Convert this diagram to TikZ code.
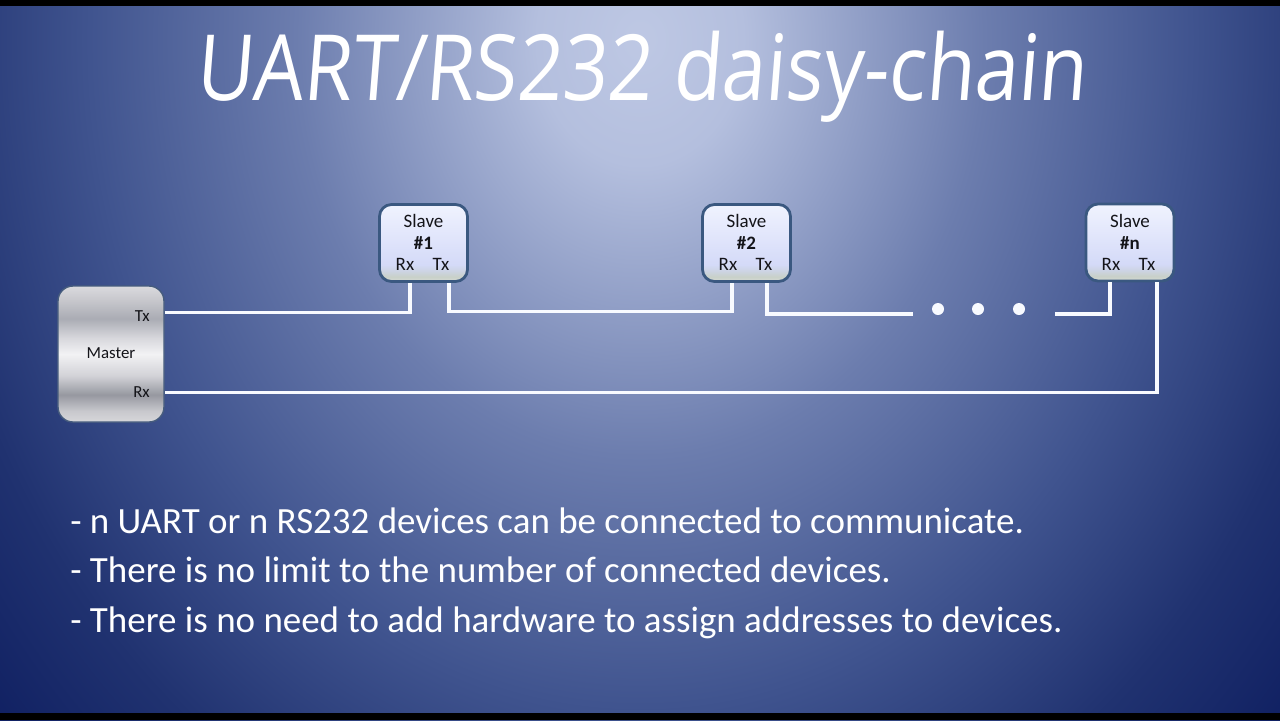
\documentclass[tikz,border=0pt]{standalone}
\usepackage{fontspec}
\setmainfont{Carlito}
\newfontfamily\titlefont[FakeStretch=0.865,FakeSlant=0.08]{Open Sans}
\usepackage{xcolor}
\usepackage{tikz}
\usetikzlibrary{shapes,positioning,calc}

\definecolor{bgA}{RGB}{190,200,228}
\definecolor{bgB}{RGB}{180,191,222}
\definecolor{bgC}{RGB}{108,125,174}
\definecolor{bgD}{RGB}{64,84,143}
\definecolor{bgE}{RGB}{32,50,112}
\definecolor{bgF}{RGB}{16,32,98}
\definecolor{wirewhite}{RGB}{248,250,255}
\definecolor{slaveedge}{RGB}{58,88,128}
\definecolor{masteredge}{RGB}{70,92,125}
\definecolor{textdark}{RGB}{20,20,25}

\pgfdeclareradialshading{slidebg}{\pgfpoint{0bp}{0bp}}{color(0bp)=(bgA); color(3bp)=(bgB); color(10bp)=(bgC); color(16bp)=(bgD); color(21bp)=(bgE); color(25bp)=(bgF); color(50bp)=(bgF)}
\pgfdeclareverticalshading{masterbands}{100bp}{color(0bp)=(rgb,255:red,215;green,215;blue,218); color(25bp)=(rgb,255:red,215;green,215;blue,218); color(29bp)=(rgb,255:red,200;green,200;blue,205); color(35bp)=(rgb,255:red,150;green,152;blue,160); color(42bp)=(rgb,255:red,210;green,210;blue,215); color(50bp)=(rgb,255:red,242;green,242;blue,244); color(56bp)=(rgb,255:red,215;green,215;blue,220); color(63bp)=(rgb,255:red,170;green,172;blue,180); color(70bp)=(rgb,255:red,200;green,200;blue,205); color(75bp)=(rgb,255:red,218;green,218;blue,222); color(100bp)=(rgb,255:red,218;green,218;blue,222)}
\pgfdeclareverticalshading{slavefill}{100bp}{color(0bp)=(rgb,255:red,215;green,220;blue,215); color(25bp)=(rgb,255:red,215;green,220;blue,215); color(28bp)=(rgb,255:red,200;green,208;blue,200); color(32bp)=(rgb,255:red,205;green,212;blue,228); color(36bp)=(rgb,255:red,212;green,218;blue,248); color(58bp)=(rgb,255:red,228;green,232;blue,252); color(75bp)=(rgb,255:red,240;green,243;blue,254); color(100bp)=(rgb,255:red,240;green,243;blue,254)}

\begin{document}
\begin{tikzpicture}[x=0.25mm,y=-0.25mm,
    wire/.style={draw=wirewhite,line width=2.2pt},
    slavebox/.style={rectangle,rounded corners=3mm,draw=slaveedge,line width=2pt,shading=slavefill,minimum width=22mm,minimum height=19.25mm},
    masterbox/.style={rectangle,rounded corners=3.75mm,draw=masteredge,line width=1pt,shading=masterbands,minimum width=26.5mm,minimum height=34mm},
    slavelabel/.style={text=textdark,font=\fontsize{13.5}{16}\selectfont,inner sep=0pt},
    masterlabel/.style={text=textdark,font=\fontsize{12}{14}\selectfont,inner sep=0pt},
    dot/.style={circle,fill=wirewhite,minimum size=3mm,inner sep=0pt},
    bullet/.style={anchor=base west,text=white,font=\fontsize{26.3}{32}\selectfont,inner sep=0pt}]

    % 背景
    \clip (0,0) rectangle (1280,720);
    \fill[bgF] (0,0) rectangle (1280,720);
    \shade[shading=slidebg] (640,40) ellipse [x radius=860, y radius=1040];
    \fill[black] (0,0) rectangle (1280,6);
    \fill[black] (0,713) rectangle (1280,720);

    % 标题
    \node[anchor=base,text=white,inner sep=0pt] (title) at (641,100) {\titlefont\fontsize{65}{70}\selectfont UART/RS232 daisy-chain};

    % 设备
    \node[masterbox] (master) at (111,354) {};
    \node[slavebox] (s1) at (423.5,243) {};
    \node[slavebox] (s2) at (746.5,243) {};
    \node[slavebox] (sn) at (1130,242.5) {};

    % 标签
    \node[masterlabel,anchor=east] (mtx) at (150,316) {Tx};
    \node[masterlabel] (mname) at (111,353) {Master};
    \node[masterlabel,anchor=east] (mrx) at (150,392) {Rx};

    \node[slavelabel] (s1name) at (423.5,221) {Slave};
    \node[slavelabel] (s1num) at (423.5,243) {\textbf{\#1}};
    \node[slavelabel] (s1rx) at (405,264) {Rx};
    \node[slavelabel] (s1tx) at (441,264) {Tx};

    \node[slavelabel] (s2name) at (746.5,221) {Slave};
    \node[slavelabel] (s2num) at (746.5,243) {\textbf{\#2}};
    \node[slavelabel] (s2rx) at (728,264) {Rx};
    \node[slavelabel] (s2tx) at (764,264) {Tx};

    \node[slavelabel] (snname) at (1130,221) {Slave};
    \node[slavelabel] (snnum) at (1130,243) {\textbf{\#n}};
    \node[slavelabel] (snrx) at (1111,264) {Rx};
    \node[slavelabel] (sntx) at (1147,264) {Tx};

    % 省略号
    \node[dot] (d1) at (938,309) {};
    \node[dot] (d2) at (978,309) {};
    \node[dot] (d3) at (1019,309) {};

    % 连线
    \draw[wire] ($(master.north east)+(0,27)$) -| ($(s1.south)+(-13.5,0)$);
    \draw[wire] ($(s1.south)+(25.5,0)$) |- ($(s2.south)+(-14.5,29)$) -- ($(s2.south)+(-14.5,0)$);
    \draw[wire] ($(s2.south)+(20.5,0)$) |- ($(d1.west)+(-19,5)$);
    \draw[wire] ($(d3.east)+(30,5)$) -| ($(sn.south)+(-20,0)$);
    \draw[wire] ($(sn.south)+(27,0)$) |- ($(master.south east)+(0,-30)$);

    % 说明
    \node[bullet] (line1) at (70,533) {- n UART or n RS232 devices can be connected to communicate.};
    \node[bullet] (line2) at (70,582) {- There is no limit to the number of connected devices.};
    \node[bullet] (line3) at (70,632) {- There is no need to add hardware to assign addresses to devices.};
\end{tikzpicture}
\end{document}
